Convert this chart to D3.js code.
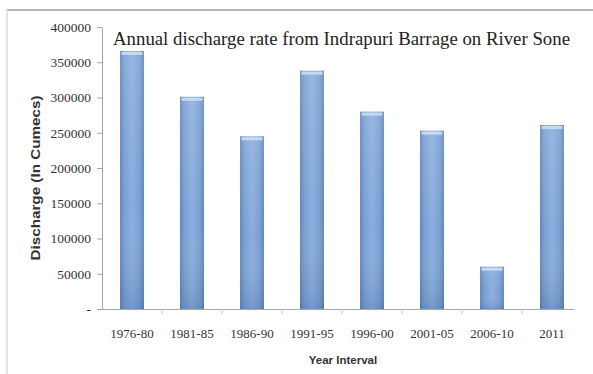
<!DOCTYPE html>
<html>
<head>
<meta charset="utf-8">
<script src="https://cdn.jsdelivr.net/npm/d3@7/dist/d3.min.js"></script>
<style>
  html, body { margin: 0; padding: 0; background: #fff; }
  svg { display: block; }
</style>
</head>
<body>
<svg id="chart" width="593" height="374"></svg>
<script>
// Annual discharge at Indrapuri Barrage, by year interval (cumecs)
const categories = ["1976-80", "1981-85", "1986-90", "1991-95", "1996-00", "2001-05", "2006-10", "2011"];
const discharge = [366000, 301000, 245000, 338000, 280000, 253000, 60000, 261000];
const yTicks = [0, 50000, 100000, 150000, 200000, 250000, 300000, 350000, 400000];
const titleText = "Annual discharge rate from Indrapuri Barrage on River Sone";
const yTitle = "Discharge (In Cumecs)";
const xTitle = "Year Interval";

const svg = d3.select("#chart");
const W = 593, H = 374;
const plot = { left: 102, right: 582, top: 27, bottom: 309 };

// outer frame
svg.append("rect").attr("x", 0).attr("y", 0).attr("width", W).attr("height", H).attr("fill", "#fff");
svg.append("line").attr("x1", 7).attr("x2", W).attr("y1", 10).attr("y2", 10)
  .attr("stroke", "#b4b4b4").attr("stroke-width", 2);
svg.append("line").attr("x1", 7).attr("x2", 7).attr("y1", 10).attr("y2", H)
  .attr("stroke", "#dcdcdc").attr("stroke-width", 1.5);

const x = d3.scaleBand().domain(categories).range([plot.left, plot.right]).paddingInner(0.6).paddingOuter(0.3);
const y = d3.scaleLinear().domain([0, 400000]).range([plot.bottom, plot.top]);

// bar shading
const defs = svg.append("defs");
const hg = defs.append("linearGradient").attr("id", "barH").attr("x1", "0").attr("x2", "1").attr("y1", "0").attr("y2", "0");
hg.append("stop").attr("offset", "0%").attr("stop-color", "#5f85bb");
hg.append("stop").attr("offset", "18%").attr("stop-color", "#799fd2");
hg.append("stop").attr("offset", "50%").attr("stop-color", "#8aaedd");
hg.append("stop").attr("offset", "82%").attr("stop-color", "#799fd2");
hg.append("stop").attr("offset", "100%").attr("stop-color", "#5f85bb");
const vg = defs.append("linearGradient").attr("id", "barV").attr("x1", "0").attr("x2", "0").attr("y1", "0").attr("y2", "1");
vg.append("stop").attr("offset", "0%").attr("stop-color", "#ffffff").attr("stop-opacity", 0.12);
vg.append("stop").attr("offset", "60%").attr("stop-color", "#ffffff").attr("stop-opacity", 0);
vg.append("stop").attr("offset", "100%").attr("stop-color", "#1d3d6e").attr("stop-opacity", 0.18);

const serif = "'Liberation Serif', 'Times New Roman', serif";
const sans = "'Liberation Sans', Arial, sans-serif";

// y axis
const yAxis = d3.axisLeft(y).tickValues(yTicks).tickSize(5).tickSizeOuter(0)
  .tickFormat(d => d === 0 ? "-" : d3.format("d")(d));
const gy = svg.append("g").attr("transform", `translate(${plot.left},0)`).call(yAxis);
gy.select(".domain").attr("stroke", "#a6a6a6");
gy.selectAll(".tick line").attr("stroke", "#a6a6a6");
gy.selectAll(".tick text").attr("x", -11)
  .attr("font-family", serif).attr("font-size", 13.5).attr("fill", "#333");

// x axis
const xAxis = d3.axisBottom(x).tickSize(0).tickSizeOuter(0);
const gx = svg.append("g").attr("transform", `translate(0,${plot.bottom})`).call(xAxis);
gx.select(".domain").attr("stroke", "#a6a6a6").attr("d", `M${plot.left},0.5H${plot.right - 8}`);
gx.selectAll(".tick text").attr("y", 0).attr("dy", 0).attr("transform", "translate(0,29)")
  .attr("font-family", serif).attr("font-size", 13).attr("fill", "#333");
// separators between categories
const step = x.step();
gx.selectAll(".sep").data(categories.slice(1)).enter().append("line")
  .attr("class", "sep")
  .attr("x1", d => x(d) - (step - x.bandwidth()) / 2)
  .attr("x2", d => x(d) - (step - x.bandwidth()) / 2)
  .attr("y1", 0).attr("y2", 5).attr("stroke", "#c8c8c8");

// bars
const bars = svg.append("g").selectAll("g").data(categories).enter().append("g");
bars.append("rect")
  .attr("x", d => x(d)).attr("width", x.bandwidth())
  .attr("y", (d, i) => y(discharge[i])).attr("height", (d, i) => y(0) - y(discharge[i]))
  .attr("fill", "url(#barH)");
bars.append("rect")
  .attr("x", d => x(d)).attr("width", x.bandwidth())
  .attr("y", (d, i) => y(discharge[i])).attr("height", (d, i) => y(0) - y(discharge[i]))
  .attr("fill", "url(#barV)");
// light cap on top of each bar
bars.append("rect")
  .attr("x", d => x(d) + 1.5).attr("width", x.bandwidth() - 3)
  .attr("y", (d, i) => y(discharge[i]) + 1).attr("height", 3)
  .attr("fill", "#cfe0f5").attr("opacity", 0.85);

// title
svg.append("text").attr("x", 113).attr("y", 45)
  .attr("font-family", serif)
  .attr("font-size", 19).attr("fill", "#222")
  .attr("textLength", 457).attr("lengthAdjust", "spacingAndGlyphs")
  .text(titleText);

// axis titles
svg.append("text").attr("transform", `translate(40,178) rotate(-90)`)
  .attr("text-anchor", "middle")
  .attr("font-family", sans).attr("font-weight", "bold")
  .attr("font-size", 12.5).attr("fill", "#333")
  .attr("textLength", 165).attr("lengthAdjust", "spacingAndGlyphs")
  .text(yTitle);
svg.append("text").attr("x", 343).attr("y", 364).attr("text-anchor", "middle")
  .attr("font-family", sans).attr("font-weight", "bold")
  .attr("font-size", 11.5).attr("fill", "#333")
  .text(xTitle);
</script>
</body>
</html>
